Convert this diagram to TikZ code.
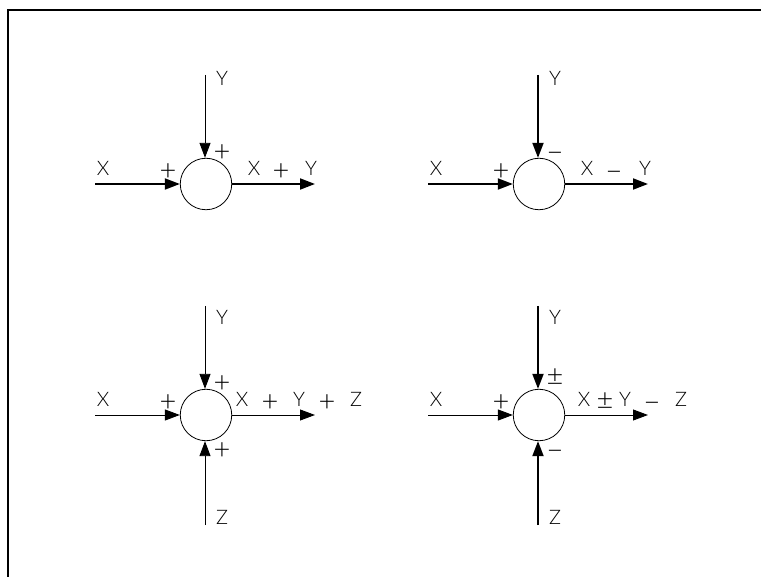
\documentclass[tikz,border=0pt]{standalone}
\usepackage{fontspec}
\setsansfont{Lato Light}
\usetikzlibrary{arrows.meta}

\tikzset{
    sumnode/.style={draw, circle, inner sep=0pt, minimum size=51.5pt, line width=0.8pt},
    lbl/.style={inner sep=0pt, font=\fontsize{20}{20}\selectfont\sffamily},
    oplbl/.style={inner sep=0pt, yshift=-2pt, font=\fontsize{29}{29}\selectfont\sffamily},
    minuslbl/.style={oplbl, yshift=-4pt},
    thinline/.style={line width=0.9pt},
    boldline/.style={line width=1.9pt},
}

\begin{document}
\begin{tikzpicture}[x=1pt, y=-1pt, >={Triangle[length=15pt, width=11pt]}]
    \useasboundingbox (0,0) rectangle (761,577);

    \draw[line width=2pt] (8,577) -- (8,10) -- (761,10);

    % top left
    \node[sumnode] (sumA) at (206,184) {};
    \coordinate (inXA) at (95,184);
    \coordinate (inYA) at (205,75);
    \coordinate (outA) at (315,184);
    \draw[boldline,->] (inXA) -- (sumA.west);
    \draw[thinline,->] (inYA) -- (sumA.north -| inYA);
    \draw[boldline,->] (sumA.east) -- (outA);

    \node[lbl] (xA) at (103,168) {X};
    \node[oplbl] (plusXA) at (168,170) {+};
    \node[lbl] (yA) at (222,78) {Y};
    \node[oplbl] (plusYA) at (222,151) {+};
    \node[lbl] (resXA) at (254,168) {X};
    \node[oplbl] (resOpA) at (281,170) {+};
    \node[lbl] (resYA) at (311,168) {Y};

    % top right
    \node[sumnode] (sumB) at (539,184) {};
    \coordinate (inXB) at (428,184);
    \coordinate (inYB) at (538,75);
    \coordinate (outB) at (648,184);
    \draw[boldline,->] (inXB) -- (sumB.west);
    \draw[boldline,->] (inYB) -- (sumB.north -| inYB);
    \draw[boldline,->] (sumB.east) -- (outB);

    \node[lbl] (xB) at (436,168) {X};
    \node[oplbl] (plusXB) at (501,170) {+};
    \node[lbl] (yB) at (555,78) {Y};
    \node[minuslbl] (minusYB) at (555,151) {−};
    \node[lbl] (resXB) at (587,168) {X};
    \node[minuslbl] (resOpB) at (614,170) {−};
    \node[lbl] (resYB) at (645,168) {Y};

    % bottom left
    \node[sumnode] (sumC) at (206,415) {};
    \coordinate (inXC) at (95,415);
    \coordinate (inYC) at (205,306);
    \coordinate (inZC) at (205,525);
    \coordinate (outC) at (315,415);
    \draw[thinline,->] (inXC) -- (sumC.west);
    \draw[thinline,->] (inYC) -- (sumC.north -| inYC);
    \draw[thinline,->] (inZC) -- (sumC.south -| inZC);
    \draw[thinline,->] (sumC.east) -- (outC);

    \node[lbl] (xC) at (103,399) {X};
    \node[oplbl] (plusXC) at (168,401) {+};
    \node[lbl] (yC) at (222,317) {Y};
    \node[oplbl] (plusYC) at (222,382) {+};
    \node[lbl] (zC) at (222,517) {Z};
    \node[oplbl] (plusZC) at (222,449) {+};
    \node[lbl] (resXC) at (242,399) {X};
    \node[oplbl] (resOpC) at (270,401) {+};
    \node[lbl] (resYC) at (299,399) {Y};
    \node[oplbl] (resOpZC) at (327,401) {+};
    \node[lbl] (resZC) at (356,399) {Z};

    % bottom right
    \node[sumnode] (sumD) at (539,415) {};
    \coordinate (inXD) at (428,415);
    \coordinate (inYD) at (538,306);
    \coordinate (inZD) at (538,525);
    \coordinate (outD) at (648,415);
    \draw[thinline,->] (inXD) -- (sumD.west);
    \draw[boldline,->] (inYD) -- (sumD.north -| inYD);
    \draw[boldline,->] (inZD) -- (sumD.south -| inZD);
    \draw[thinline,->] (sumD.east) -- (outD);

    \node[lbl] (xD) at (436,399) {X};
    \node[oplbl] (plusXD) at (501,401) {+};
    \node[lbl] (yD) at (555,317) {Y};
    \node[oplbl] (pmYD) at (555,375) {±};
    \node[lbl] (zD) at (555,517) {Z};
    \node[minuslbl] (minusZD) at (555,449) {−};
    \node[lbl] (resXD) at (584,399) {X};
    \node[oplbl] (resOpD) at (605,399) {±};
    \node[lbl] (resYD) at (625,399) {Y};
    \node[minuslbl] (resOpZD) at (652,401) {−};
    \node[lbl] (resZD) at (681,399) {Z};
\end{tikzpicture}
\end{document}
